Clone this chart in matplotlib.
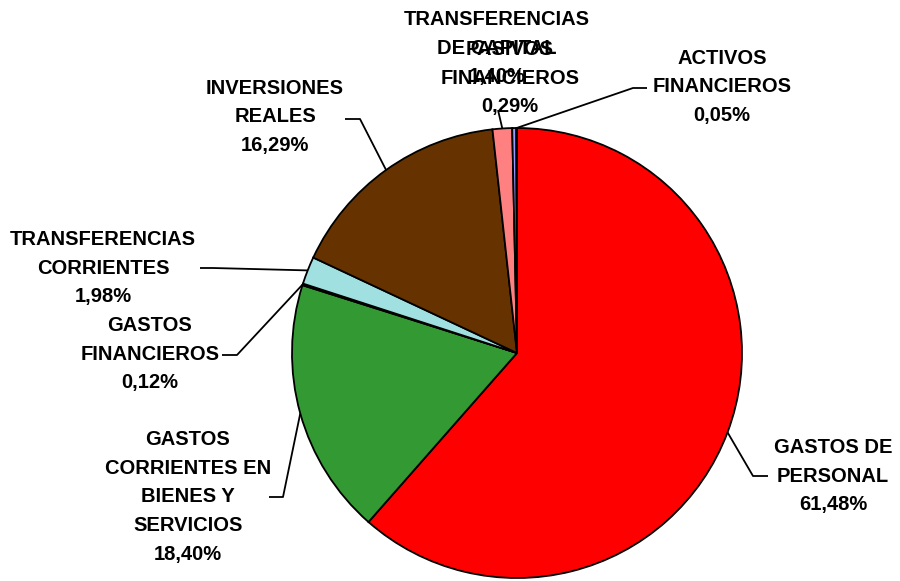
import numpy as np
import matplotlib
matplotlib.use("Agg")
import matplotlib.pyplot as plt

plt.rcParams['font.family'] = ['Liberation Sans', 'DejaVu Sans']

labels = ['GASTOS DE\nPERSONAL', 'GASTOS\nCORRIENTES EN\nBIENES Y\nSERVICIOS',
          'GASTOS\nFINANCIEROS', 'TRANSFERENCIAS\nCORRIENTES', 'INVERSIONES\nREALES',
          'TRANSFERENCIAS\nDE CAPITAL', 'PASIVOS\nFINANCIEROS', 'ACTIVOS\nFINANCIEROS']
values = [61.48, 18.40, 0.12, 1.98, 16.29, 1.40, 0.29, 0.05]
colors = ['#FF0000', '#339933', '#000000', '#A0E0E0', '#663300', '#FF8080', '#9999FF', '#CCCCFF']

# layout (pixel coords, y from top): label centre, elbow, end of leader
label_pos = [(833, 476), (188, 497), (150, 354), (103, 268), (275, 117), (497, 48), (510, 78), (722, 87)]
elbows = [(753, 476), (283, 497), (237, 355), (213, 268), (360, 119), (498, 110), None, (633, 88)]
ends = [(768, 476), (269, 497), (222, 355), (200, 268), (345, 119), (498, 110), None, (647, 88)]

W, H = 900, 581
cx, cy, R = 517, 353, 225

fig = plt.figure(figsize=(9, 5.81), dpi=100)
ax = fig.add_axes([0, 0, 1, 1])

wedges, _ = ax.pie(values, colors=colors, startangle=90, counterclock=False,
                   center=(cx, H - cy), radius=R, frame=True,
                   wedgeprops=dict(edgecolor='black', linewidth=1.3))
ax.set_xlim(0, W)
ax.set_ylim(0, H)
ax.set_aspect('equal')
ax.axis('off')

for w, lab, v, lp, el, en in zip(wedges, labels, values, label_pos, elbows, ends):
    txt = lab + '\n' + ('%.2f' % v).replace('.', ',') + '%'
    ax.text(lp[0], H - lp[1], txt, ha='center', va='center', multialignment='center',
            fontsize=14.5, fontweight='bold', linespacing=1.65, color='black')
    if el is None:
        continue
    ang = np.deg2rad((w.theta1 + w.theta2) / 2)
    px = cx + R * np.cos(ang)
    py = (H - cy) + R * np.sin(ang)
    ax.plot([px, el[0], en[0]], [py, H - el[1], H - en[1]], color='black', lw=1.3,
            solid_capstyle='butt', zorder=3)

fig.savefig('out.png', dpi=100)
